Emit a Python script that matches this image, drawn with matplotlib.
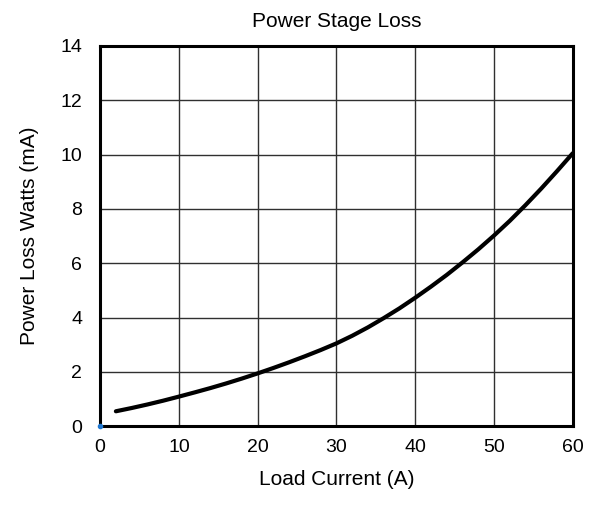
import matplotlib
matplotlib.use("Agg")
import matplotlib.pyplot as plt

plt.rcParams['font.family'] = ['Liberation Sans', 'DejaVu Sans']

load_current = [2, 4, 6, 8, 10, 12, 14, 16, 18, 20, 22, 24, 26, 28, 30,
                32, 34, 36, 38, 40, 42, 44, 46, 48, 50, 52, 54, 56, 58, 60]
power_loss = [0.55, 0.67, 0.80, 0.94, 1.09, 1.245, 1.405, 1.575, 1.755, 1.945,
              2.145, 2.355, 2.575, 2.805, 3.05, 3.33, 3.64, 3.98, 4.34, 4.73,
              5.14, 5.57, 6.03, 6.51, 7.02, 7.56, 8.14, 8.75, 9.39, 10.05]
origin_x = [0]
origin_y = [0]
x_ticks = [0, 10, 20, 30, 40, 50, 60]
y_ticks = [0, 2, 4, 6, 8, 10, 12, 14]

fig = plt.figure(figsize=(5.96, 5.05), dpi=100)
ax = fig.add_axes([0.168, 0.156, 0.793, 0.753])

ax.plot(load_current, power_loss, color='black', linewidth=3, solid_capstyle='round',
        solid_joinstyle='round', zorder=3)
ax.plot(origin_x, origin_y, 'o', color='#1f77d0', markersize=3, clip_on=False, zorder=4)

ax.set_xlim(0, 60)
ax.set_ylim(0, 14)
ax.set_xticks(x_ticks)
ax.set_yticks(y_ticks)
ax.grid(True, color='#303030', linewidth=1)
ax.set_axisbelow(True)
ax.tick_params(axis='x', length=0, labelsize=14, pad=9)
ax.tick_params(axis='y', length=0, labelsize=14, pad=13)
for s in ax.spines.values():
    s.set_linewidth(2.2)
    s.set_color('black')

ax.set_title('Power Stage Loss', fontsize=15, pad=14)
ax.set_xlabel('Load Current (A)', fontsize=15, labelpad=10)
ax.set_ylabel('Power Loss Watts (mA)', fontsize=15, labelpad=15)

fig.savefig('out.png', dpi=100)
